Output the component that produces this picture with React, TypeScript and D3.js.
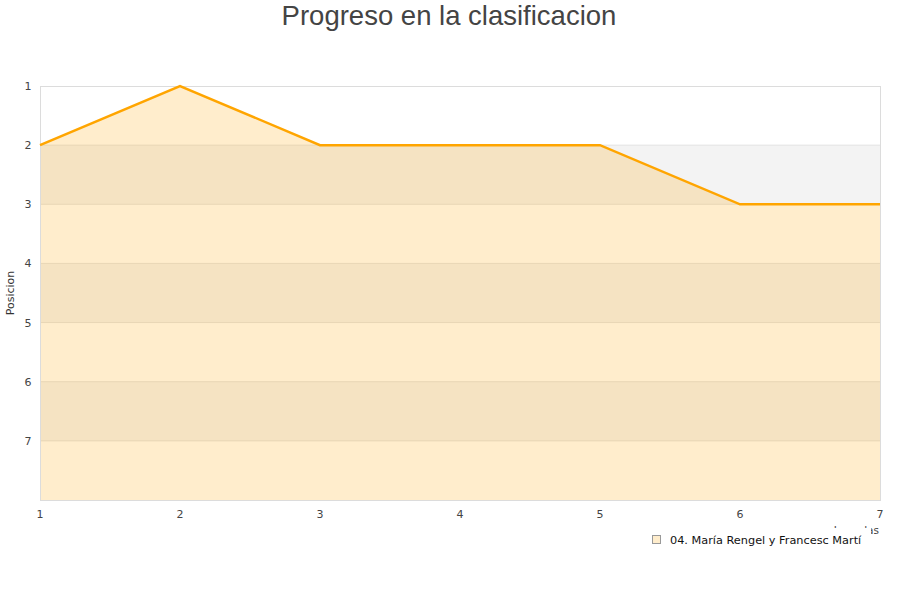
import React, { useEffect, useRef } from 'react';
import * as d3 from 'd3';

// jornadas and the team's position after each one
const rounds = [1, 2, 3, 4, 5, 6, 7];
const positions = [2, 1, 2, 2, 2, 3, 3];
const rankTicks = [1, 2, 3, 4, 5, 6, 7];
const teamName = '04. María Rengel y Francesc Martí';

const W = 900, H = 600;
const m = { top: 86, right: 20, bottom: 100, left: 40 };

const App: React.FC = () => {
  const svgRef = useRef<SVGSVGElement>(null);

  useEffect(() => {
    document.body.style.margin = '0';
    if (!svgRef.current) return;
    const svg = d3.select(svgRef.current);
    svg.selectAll('*').remove();

    const x = d3.scaleLinear().domain([1, 7]).range([m.left, W - m.right]);
    const y = d3.scaleLinear().domain([1, 8]).range([m.top, H - m.bottom]);
    const font = 'DejaVu Sans, sans-serif';

    // title
    svg.append('text')
      .attr('x', W / 2 - 1).attr('y', 25)
      .attr('text-anchor', 'middle')
      .attr('font-family', 'Liberation Sans, Arial, sans-serif')
      .attr('font-size', 27.5)
      .attr('fill', '#444')
      .text('Progreso en la clasificacion');

    // alternating bands
    svg.append('g').selectAll('rect')
      .data(d3.range(1, 8).filter((r) => r % 2 === 0))
      .join('rect')
      .attr('x', x(1)).attr('width', x(7) - x(1))
      .attr('y', (d) => y(d)).attr('height', (d) => y(d + 1) - y(d))
      .attr('fill', '#f3f3f3');

    // grid
    svg.append('g').selectAll('line')
      .data(d3.range(2, 8))
      .join('line')
      .attr('x1', x(1)).attr('x2', x(7))
      .attr('y1', (d) => y(d)).attr('y2', (d) => y(d))
      .attr('stroke', '#e3e3e3');

    const pts = rounds.map((r, i) => [r, positions[i]] as [number, number]);

    const area = d3.area<[number, number]>()
      .x((d) => x(d[0]))
      .y0(y(8))
      .y1((d) => y(d[1]));

    svg.append('path')
      .datum(pts)
      .attr('d', area)
      .attr('fill', '#ffa500')
      .attr('fill-opacity', 0.2);

    // plot border
    svg.append('rect')
      .attr('x', x(1) + 0.5).attr('y', y(1) + 0.5)
      .attr('width', x(7) - x(1)).attr('height', y(8) - y(1))
      .attr('fill', 'none')
      .attr('stroke', '#dcdcdc');

    const line = d3.line<[number, number]>()
      .x((d) => x(d[0]))
      .y((d) => y(d[1]));

    svg.append('path')
      .datum(pts)
      .attr('d', line)
      .attr('fill', 'none')
      .attr('stroke', '#ffa500')
      .attr('stroke-width', 2.5);

    // y ticks
    svg.append('g').selectAll('text')
      .data(rankTicks)
      .join('text')
      .attr('x', 28).attr('y', (d) => y(d) + 4)
      .attr('text-anchor', 'middle')
      .attr('font-family', font).attr('font-size', 11)
      .attr('fill', '#444')
      .text((d) => d);

    // x ticks
    svg.append('g').selectAll('text')
      .data(rounds)
      .join('text')
      .attr('x', (d) => x(d)).attr('y', y(8) + 18)
      .attr('text-anchor', 'middle')
      .attr('font-family', font).attr('font-size', 11)
      .attr('fill', '#444')
      .text((d) => d);

    svg.append('text')
      .attr('transform', `translate(14,${(y(1) + y(8)) / 2}) rotate(-90)`)
      .attr('text-anchor', 'middle')
      .attr('font-family', font).attr('font-size', 11)
      .attr('fill', '#333')
      .text('Posicion');

    // x axis title, mostly hidden behind the legend as in the original
    svg.append('text')
      .attr('x', 879).attr('y', 534)
      .attr('text-anchor', 'end')
      .attr('font-family', font).attr('font-size', 10.5)
      .attr('fill', '#444')
      .text('Jornadas');

    // legend
    const lg = svg.append('g');
    lg.append('rect')
      .attr('x', 640).attr('y', 528).attr('width', 231).attr('height', 24)
      .attr('fill', '#fff');
    lg.append('rect')
      .attr('x', 652.5).attr('y', 535.5).attr('width', 8).attr('height', 8)
      .attr('fill', '#ffedcc').attr('stroke', '#999');
    lg.append('text')
      .attr('x', 670).attr('y', 543.5)
      .attr('font-family', font).attr('font-size', 11.3)
      .attr('fill', '#111')
      .text(teamName);
  }, []);

  return <svg ref={svgRef} width={W} height={H} style={{ display: 'block' }} />;
};

export default App;
